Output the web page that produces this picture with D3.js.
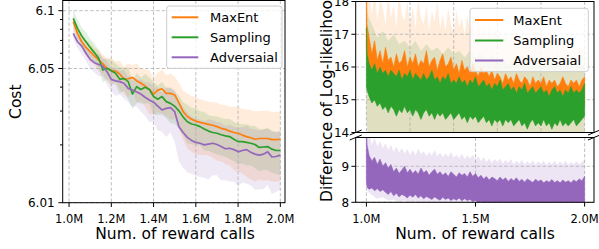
<!DOCTYPE html>
<html>
<head>
<meta charset="utf-8">
<script src="https://d3js.org/d3.v7.min.js"></script>
<style>
    body { margin: 0; background: #fff; }
    svg text { font-family: "DejaVu Sans", sans-serif; fill: #000; }
    .grid { stroke: #b0b0b0; stroke-width: 0.8; stroke-dasharray: 3.5,2; }
    .spine { fill: none; stroke: #000; stroke-width: 1; }
    .tick { stroke: #000; stroke-width: 1; }
</style>
</head>
<body>
<svg width="599" height="249"></svg>
<script>
const names = ["MaxEnt", "Sampling", "Adversaial"];
const colors = ["#ff7f0e", "#2ca02c", "#9467bd"];

// ---- left panel: cost vs reward calls (millions) ----
const costX = [1.02,1.04,1.06,1.08,1.10,1.12,1.14,1.16,1.18,1.20,1.22,1.24,1.26,1.28,1.30,1.32,1.34,1.36,1.38,1.40,
    1.42,1.44,1.46,1.48,1.50,1.52,1.54,1.56,1.58,1.60,1.62,1.64,1.66,1.68,1.70,1.72,1.74,1.76,1.78,1.80,
    1.82,1.84,1.86,1.88,1.90,1.92,1.94,1.96,1.98,2.00];
const costMaxEnt = [6.0877,6.0762,6.0689,6.0644,6.0612,6.0581,6.0554,6.0528,6.0501,6.0487,6.0485,6.0468,6.0439,6.0442,6.0449,6.0432,6.0419,6.0405,6.0389,6.0368,
    6.0386,6.0392,6.0371,6.0371,6.0364,6.0332,6.0298,6.0281,6.0272,6.0266,6.0262,6.0259,6.0256,6.0253,6.0249,6.0244,6.0241,6.0236,6.0232,6.0230,
    6.0225,6.0221,6.0218,6.0214,6.0216,6.0216,6.0216,6.0213,6.0213,6.0214];
const costSampling = [6.0912,6.0809,6.0738,6.0689,6.0644,6.0605,6.0565,6.0491,6.0501,6.0487,6.0472,6.0439,6.0444,6.0427,6.0368,6.0402,6.0389,6.0399,6.0389,6.0357,
    6.0346,6.0357,6.0336,6.0329,6.0318,6.0301,6.0279,6.0264,6.0257,6.0254,6.0249,6.0242,6.0236,6.0232,6.0230,6.0226,6.0223,6.0221,6.0214,6.0208,
    6.0208,6.0206,6.0204,6.0201,6.0194,6.0195,6.0196,6.0190,6.0187,6.0187];
const costAdversarial = [6.0762,6.0689,6.0654,6.0600,6.0558,6.0536,6.0525,6.0515,6.0481,6.0439,6.0431,6.0427,6.0419,6.0394,6.0386,6.0377,6.0368,6.0354,6.0343,6.0334,
    6.0318,6.0304,6.0310,6.0313,6.0298,6.0249,6.0232,6.0219,6.0211,6.0206,6.0204,6.0200,6.0202,6.0204,6.0201,6.0196,6.0191,6.0192,6.0189,6.0184,
    6.0187,6.0189,6.0183,6.0179,6.0177,6.0179,6.0184,6.0173,6.0174,6.0177];
const costStdMaxEnt = [0.006,0.006,0.005,0.006,0.007,0.006,0.007,0.006,0.007,0.008,0.006,0.008,0.007,0.009,0.007,0.010,0.008,0.009,0.010,0.008,
    0.009,0.010,0.009,0.010,0.009,0.009,0.0085,0.009,0.0088,0.0088,0.0085,0.0082,0.008,0.0082,0.0083,0.008,0.0082,0.008,0.0084,0.0085,
    0.0083,0.0085,0.0086,0.0085,0.0084,0.0086,0.0085,0.0084,0.0085,0.0084];
const costStdSampling = [0.010,0.009,0.008,0.008,0.007,0.007,0.006,0.007,0.006,0.007,0.006,0.007,0.006,0.008,0.006,0.007,0.006,0.007,0.006,0.007,
    0.006,0.007,0.006,0.007,0.006,0.006,0.0055,0.006,0.0055,0.0055,0.005,0.0055,0.005,0.005,0.0052,0.005,0.005,0.0052,0.005,0.005,
    0.0048,0.005,0.0048,0.005,0.0048,0.0047,0.0048,0.0047,0.0046,0.0047];
const costStdAdversarial = [0.005,0.005,0.006,0.005,0.006,0.006,0.007,0.006,0.007,0.006,0.007,0.006,0.007,0.006,0.007,0.006,0.007,0.007,0.008,0.007,
    0.008,0.007,0.009,0.008,0.009,0.0085,0.008,0.0075,0.007,0.0068,0.0068,0.0065,0.007,0.0065,0.0062,0.0065,0.006,0.0063,0.006,0.0062,
    0.006,0.0063,0.006,0.0062,0.006,0.0061,0.006,0.0062,0.006,0.006];
const costTicks = [6.01, 6.05, 6.1];
const costTickLabels = ["6.01", "6.05", "6.1"];
const costMinor = [6.02, 6.03, 6.04, 6.06, 6.07, 6.08, 6.09];
const callTicksL = [1.0, 1.2, 1.4, 1.6, 1.8, 2.0];

// ---- right panel: difference of log-likelihood ----
// coarse grid (hidden edges)
const llX = [1.0,1.006,1.025,1.05,1.075,1.1,1.125,1.15,1.175,1.2,1.225,1.25,1.275,1.3,1.325,1.35,1.375,1.4,1.425,1.45,
    1.475,1.5,1.525,1.55,1.575,1.6,1.625,1.65,1.675,1.7,1.725,1.75,1.775,1.8,1.825,1.85,1.875,1.9,1.925,1.95,1.975,2.0];
const llMaxEntLo = [16.6,15.7,15.5,15.4,15.4,15.3,15.3,15.2,15.2,15.2,15.1,15.1,15.1,15.1,15.0,15.1,15.0,15.0,14.9,15.0,
    14.9,14.9,14.8,14.9,14.8,14.8,14.8,14.7,14.8,14.7,14.7,14.6,14.7,14.7,14.6,14.7,14.6,14.6,14.7,14.6,14.6,14.8];
const llMaxEntBandLo = [14.6,13.9,13.6,13.5,13.7,13.4,13.6,13.5,13.4,13.6,13.5,13.4,13.6,13.5,13.4,13.5,13.6,13.4,13.5,13.4,
    13.6,13.5,13.4,13.5,13.4,13.5,13.3,13.4,13.5,13.3,13.4,13.5,13.3,13.4,13.3,13.5,13.4,13.3,13.4,13.3,13.4,13.5];
const llSamplingBandHi = [17.9,17.6,17.3,16.9,17.1,16.8,17.0,16.7,16.8,16.6,16.8,16.5,16.7,16.5,16.6,16.4,16.6,16.4,16.5,16.3,
    16.5,16.3,16.4,16.2,16.4,16.2,16.3,16.1,16.3,16.1,16.2,16.0,16.2,16.0,16.1,16.0,16.1,15.9,16.1,15.9,16.0,16.1];
const llSamplingBandLo = [14.3,13.9,13.7,13.5,13.6,13.4,13.5,13.3,13.4,13.3,13.4,13.2,13.3,13.2,13.3,13.1,13.3,13.2,13.1,13.2,
    13.1,13.2,13.0,13.1,13.0,13.1,13.0,12.9,13.0,12.9,13.0,12.9,12.8,13.0,12.9,12.8,12.9,12.8,12.9,12.8,12.9,13.0];
const llAdversarialBandLo = [8.4,8.3,8.2,8.1,8.15,8.05,8.08,8.0,8.05,7.98,8.02,7.96,8.0,7.95,7.98,7.92,7.95,7.9,7.92,7.88,
    7.9,7.85,7.88,7.85,7.82,7.85,7.8,7.82,7.8,7.78,7.8,7.78,7.8,7.76,7.78,7.76,7.78,7.75,7.78,7.76,7.78,7.8];
// fine grid (visible noisy edges)
const llXf = [1.0,1.003,1.0125,1.025,1.0375,1.05,1.0625,1.075,1.0875,1.1,1.1125,1.125,1.1375,1.15,1.1625,1.175,1.1875,1.2,
    1.2125,1.225,1.2375,1.25,1.2625,1.275,1.2875,1.3,1.3125,1.325,1.3375,1.35,1.3625,1.375,1.3875,1.4,
    1.4125,1.425,1.4375,1.45,1.4625,1.475,1.4875,1.5,1.5125,1.525,1.5375,1.55,1.5625,1.575,1.5875,1.6,
    1.6125,1.625,1.6375,1.65,1.6625,1.675,1.6875,1.7,1.7125,1.725,1.7375,1.75,1.7625,1.775,1.7875,1.8,
    1.8125,1.825,1.8375,1.85,1.8625,1.875,1.8875,1.9,1.9125,1.925,1.9375,1.95,1.9625,1.975,1.9875,2.0];
const llMaxEntHi = [18.6,17.3,16.9,16.4,16.8,16.2,16.5,16.1,16.6,16.2,16.3,16.0,16.4,16.1,16.2,16.5,16.0,16.3,
    16.1,16.4,16.0,16.2,16.1,16.5,16.0,16.2,16.3,15.9,16.2,16.4,16.0,16.1,16.3,15.9,
    16.1,15.8,16.2,15.9,16.0,15.8,16.1,15.9,15.7,16.0,15.8,15.9,15.7,15.9,15.6,15.8,
    15.7,15.5,15.8,15.6,15.7,15.5,15.8,15.6,15.5,15.7,15.6,15.4,15.7,15.5,15.6,15.5,
    15.7,15.4,15.6,15.5,15.6,15.4,15.5,15.7,15.5,15.4,15.6,15.5,15.6,15.4,15.6,15.7];
const llMaxEntBandHi = [18.6,18.6,18.3,17.6,18.4,17.4,18.1,17.8,17.3,18.2,17.5,17.9,17.2,18.3,17.6,17.4,18.0,17.3,
    17.8,17.2,18.1,17.5,17.3,17.9,17.1,17.7,17.4,18.0,17.2,17.6,17.1,17.8,17.3,17.0,
    17.7,17.2,17.5,17.0,17.6,17.1,17.4,16.9,17.5,17.0,17.3,16.8,17.4,16.9,17.2,16.8,
    17.1,16.7,17.2,16.8,17.0,16.6,17.1,16.7,16.9,16.6,17.0,16.7,16.5,16.9,16.6,16.8,
    16.5,16.9,16.6,16.7,16.4,16.8,16.5,16.7,16.4,16.6,16.5,16.7,16.4,16.6,16.5,16.6];
const llSamplingHi = [17.2,16.4,16.1,15.9,16.1,15.8,16.0,15.8,15.9,15.7,15.9,15.8,15.7,15.9,15.6,15.8,15.7,15.9,
    15.6,15.8,15.7,15.6,15.8,15.6,15.7,15.9,15.6,15.7,15.5,15.7,15.6,15.8,15.5,15.6,
    15.5,15.7,15.5,15.6,15.4,15.6,15.5,15.7,15.4,15.5,15.6,15.4,15.5,15.3,15.5,15.4,
    15.6,15.3,15.4,15.5,15.3,15.4,15.2,15.4,15.3,15.5,15.2,15.3,15.4,15.2,15.3,15.4,
    15.2,15.3,15.1,15.3,15.4,15.2,15.3,15.1,15.3,15.2,15.4,15.2,15.3,15.2,15.3,15.5];
const llSamplingLo = [15.4,15.3,15.1,14.9,15.0,14.8,14.9,14.7,14.8,14.6,14.8,14.7,14.5,14.7,14.6,14.8,14.6,14.7,
    14.5,14.7,14.6,14.4,14.6,14.7,14.5,14.6,14.4,14.6,14.5,14.6,14.4,14.5,14.6,14.4,
    14.5,14.6,14.4,14.5,14.3,14.5,14.4,14.5,14.3,14.4,14.5,14.3,14.4,14.2,14.4,14.3,
    14.4,14.2,14.4,14.3,14.4,14.2,14.3,14.4,14.2,14.3,14.1,14.3,14.4,14.2,14.3,14.2,
    14.4,14.2,14.3,14.1,14.3,14.2,14.4,14.2,14.3,14.2,14.3,14.4,14.2,14.3,14.4,14.5];
const llAdversarialHi = [10.3,9.6,9.3,9.15,9.25,9.05,9.2,9.0,9.1,8.95,9.05,8.85,8.95,8.8,8.9,9.0,8.82,8.92,
    8.8,8.88,8.78,8.95,8.82,8.88,8.75,8.85,8.92,8.78,8.85,8.75,8.82,8.72,8.85,8.78,
    8.7,8.82,8.75,8.8,8.7,8.85,8.72,8.8,8.68,8.75,8.65,8.72,8.62,8.7,8.66,8.6,
    8.7,8.62,8.68,8.58,8.66,8.6,8.68,8.58,8.64,8.56,8.65,8.6,8.55,8.64,8.58,8.62,
    8.54,8.6,8.56,8.63,8.55,8.6,8.54,8.62,8.56,8.6,8.54,8.62,8.57,8.65,8.6,8.72];
const llAdversarialLo = [8.6,8.42,8.36,8.4,8.32,8.38,8.3,8.35,8.28,8.22,8.3,8.18,8.25,8.15,8.22,8.18,8.12,8.2,
    8.14,8.22,8.12,8.18,8.1,8.16,8.12,8.08,8.15,8.1,8.06,8.14,8.08,8.12,8.05,8.1,
    8.06,8.12,8.04,8.1,8.05,8.08,8.02,8.06,7.98,8.02,7.95,7.98,7.94,7.96,7.92,7.95,
    7.9,7.94,7.9,7.92,7.88,7.93,7.9,7.92,7.88,7.94,7.9,7.92,7.88,7.93,7.9,7.92,
    7.88,7.94,7.9,7.92,7.88,7.93,7.9,7.92,7.88,7.94,7.9,7.92,7.88,7.93,7.9,7.95];
const llAdversarialBandHi = [10.3,10.2,9.9,9.6,9.8,9.55,9.7,9.5,9.65,9.45,9.6,9.4,9.55,9.38,9.5,9.35,9.48,9.32,
    9.45,9.3,9.5,9.34,9.42,9.28,9.4,9.3,9.45,9.28,9.38,9.25,9.36,9.26,9.4,9.24,
    9.32,9.22,9.35,9.2,9.3,9.22,9.32,9.18,9.28,9.15,9.25,9.12,9.22,9.1,9.2,9.12,
    9.22,9.08,9.18,9.1,9.2,9.06,9.16,9.08,9.18,9.05,9.15,9.06,9.17,9.04,9.14,9.06,
    9.16,9.03,9.13,9.05,9.15,9.04,9.14,9.06,9.16,9.04,9.12,9.05,9.15,9.06,9.12,9.18];
const llTopTicks = [14, 15, 16, 17, 18];
const llBotTicks = [8, 9];
const callTicksTop = [1.0, 1.2, 1.4, 1.6, 1.8, 2.0];
const callTicksR = [1.0, 1.5, 2.0];

const svg = d3.select("svg");
const defs = svg.append("defs");
function clipRect(id, x0, y0, x1, y1) {
    defs.append("clipPath").attr("id", id).append("rect")
        .attr("x", x0).attr("y", y0).attr("width", x1 - x0).attr("height", y1 - y0);
}
const fmtM = d => d.toFixed(1) + "M";

// ================= left panel =================
const L = {x0: 62.7, x1: 285, y0: 0.5, y1: 202.7};
const xL = d3.scaleLinear().domain([0.97, 2.022]).range([L.x0, L.x1]);
const yL = d3.scaleLog().domain([0.01, 0.113]).range([L.y1, L.y0]);
const yCost = v => yL(v - 6);
clipRect("clipL", L.x0, L.y0, L.x1, L.y1);

const left = svg.append("g");
const costSeries = [
    {mean: costMaxEnt, std: costStdMaxEnt},
    {mean: costSampling, std: costStdSampling},
    {mean: costAdversarial, std: costStdAdversarial}
];
const bandsL = left.append("g").attr("clip-path", "url(#clipL)");
costSeries.forEach((s, k) => {
    const area = d3.area()
        .x((d, i) => xL(costX[i]))
        .y0((d, i) => yCost(s.mean[i] - s.std[i]))
        .y1((d, i) => yCost(s.mean[i] + s.std[i]));
    bandsL.append("path").attr("d", area(s.mean))
        .attr("fill", colors[k]).attr("fill-opacity", 0.15);
});
const gridL = left.append("g");
callTicksL.forEach(t => gridL.append("line").attr("class", "grid")
    .attr("x1", xL(t)).attr("x2", xL(t)).attr("y1", L.y0).attr("y2", L.y1));
costTicks.forEach(t => gridL.append("line").attr("class", "grid")
    .attr("x1", L.x0).attr("x2", L.x1).attr("y1", yCost(t)).attr("y2", yCost(t)));
const linesL = left.append("g").attr("clip-path", "url(#clipL)");
costSeries.forEach((s, k) => {
    const line = d3.line().x((d, i) => xL(costX[i])).y(d => yCost(d));
    linesL.append("path").attr("d", line(s.mean))
        .attr("fill", "none").attr("stroke", colors[k]).attr("stroke-width", 1.7)
        .attr("stroke-linejoin", "round");
});
left.append("rect").attr("class", "spine")
    .attr("x", L.x0).attr("y", L.y0).attr("width", L.x1 - L.x0).attr("height", L.y1 - L.y0);
costTicks.forEach((t, i) => {
    left.append("line").attr("class", "tick")
        .attr("x1", L.x0 - 4.3).attr("x2", L.x0).attr("y1", yCost(t)).attr("y2", yCost(t));
    left.append("text").attr("x", L.x0 - 8).attr("y", yCost(t)).attr("dy", "0.36em")
        .attr("text-anchor", "end").attr("font-size", 12).text(costTickLabels[i]);
});
costMinor.forEach(t => left.append("line").attr("class", "tick")
    .attr("x1", L.x0 - 2.7).attr("x2", L.x0).attr("y1", yCost(t)).attr("y2", yCost(t)));
callTicksL.forEach(t => {
    left.append("line").attr("class", "tick")
        .attr("x1", xL(t)).attr("x2", xL(t)).attr("y1", L.y1).attr("y2", L.y1 + 4.3);
    left.append("text").attr("x", xL(t)).attr("y", 222.5)
        .attr("text-anchor", "middle").attr("font-size", 11.5).text(fmtM(t));
});
left.append("text").attr("transform", "translate(20.7,101.7) rotate(-90)")
    .attr("text-anchor", "middle").attr("font-size", 15.5).text("Cost");
left.append("text").attr("x", 175).attr("y", 239)
    .attr("text-anchor", "middle").attr("font-size", 15.5).text("Num. of reward calls");

// ================= right panel =================
const R = {x0: 355.7, x1: 594, top: [1.5, 132.5], bot: [137.5, 202.3]};
const xR = d3.scaleLinear().domain([0.951, 2.043]).range([R.x0, R.x1]);
const yTop = d3.scaleLinear().domain([14, 18]).range([R.top[1], R.top[0]]);
const yBot = d3.scaleLinear().domain([8, 9.8]).range([R.bot[1], R.bot[0]]);
clipRect("clipT", R.x0, R.top[0], R.x1, R.top[1]);
clipRect("clipB", R.x0, R.bot[0], R.x1, R.bot[1]);

const right = svg.append("g");
// area between two edges; each edge may sit on its own x grid
function envelope(y, xsLo, lo, xsHi, hi) {
    const upper = xsHi.map((x, i) => [xR(x), y(hi[i])]);
    const lower = xsLo.map((x, i) => [xR(x), y(lo[i])]).reverse();
    return d3.line()(upper.concat(lower)) + "Z";
}
const topG = right.append("g").attr("clip-path", "url(#clipT)");
const botG = right.append("g").attr("clip-path", "url(#clipB)");

topG.append("path").attr("d", envelope(yTop, llX, llMaxEntBandLo, llXf, llMaxEntBandHi))
    .attr("fill", colors[0]).attr("fill-opacity", 0.15);
topG.append("path").attr("d", envelope(yTop, llX, llSamplingBandLo, llX, llSamplingBandHi))
    .attr("fill", colors[1]).attr("fill-opacity", 0.15);
botG.append("path").attr("d", envelope(yBot, llX, llAdversarialBandLo, llXf, llAdversarialBandHi))
    .attr("fill", colors[2]).attr("fill-opacity", 0.17);

const gridR = right.append("g");
callTicksTop.forEach(t => gridR.append("line").attr("class", "grid")
    .attr("x1", xR(t)).attr("x2", xR(t)).attr("y1", R.top[0]).attr("y2", R.top[1]));
llTopTicks.forEach(t => gridR.append("line").attr("class", "grid")
    .attr("x1", R.x0).attr("x2", R.x1).attr("y1", yTop(t)).attr("y2", yTop(t)));
callTicksR.forEach(t => gridR.append("line").attr("class", "grid")
    .attr("x1", xR(t)).attr("x2", xR(t)).attr("y1", R.bot[0]).attr("y2", R.bot[1]));
llBotTicks.forEach(t => gridR.append("line").attr("class", "grid")
    .attr("x1", R.x0).attr("x2", R.x1).attr("y1", yBot(t)).attr("y2", yBot(t)));

const topLines = right.append("g").attr("clip-path", "url(#clipT)");
const botLines = right.append("g").attr("clip-path", "url(#clipB)");
topLines.append("path").attr("d", envelope(yTop, llX, llMaxEntLo, llXf, llMaxEntHi))
    .attr("fill", colors[0]).attr("stroke", colors[0]).attr("stroke-width", 0.6);
topLines.append("path").attr("d", envelope(yTop, llXf, llSamplingLo, llXf, llSamplingHi))
    .attr("fill", colors[1]).attr("stroke", colors[1]).attr("stroke-width", 0.6);
botLines.append("path").attr("d", envelope(yBot, llXf, llAdversarialLo, llXf, llAdversarialHi))
    .attr("fill", colors[2]).attr("stroke", colors[2]).attr("stroke-width", 0.6);

[R.top, R.bot].forEach(r => right.append("rect").attr("class", "spine")
    .attr("x", R.x0).attr("y", r[0]).attr("width", R.x1 - R.x0).attr("height", r[1] - r[0]));
// broken-axis marks
[R.x0, R.x1].forEach(cx => [R.top[1], R.bot[0]].forEach(cy =>
    right.append("line").attr("class", "tick")
        .attr("x1", cx - 6).attr("y1", cy + 2.5).attr("x2", cx + 6).attr("y2", cy - 2.5)));

function yTicks(scale, ticks) {
    ticks.forEach(t => {
        right.append("line").attr("class", "tick")
            .attr("x1", R.x0 - 4.3).attr("x2", R.x0).attr("y1", scale(t)).attr("y2", scale(t));
        right.append("text").attr("x", R.x0 - 6.5).attr("y", scale(t)).attr("dy", "0.36em")
            .attr("text-anchor", "end").attr("font-size", 12).text(t);
    });
}
yTicks(yTop, llTopTicks);
yTicks(yBot, llBotTicks);
callTicksR.forEach(t => {
    right.append("line").attr("class", "tick")
        .attr("x1", xR(t)).attr("x2", xR(t)).attr("y1", R.bot[1]).attr("y2", R.bot[1] + 4.3);
    right.append("text").attr("x", xR(t)).attr("y", 222.5)
        .attr("text-anchor", "middle").attr("font-size", 11.5).text(fmtM(t));
});
right.append("text").attr("transform", "translate(332,96) rotate(-90)")
    .attr("text-anchor", "middle").attr("font-size", 15.5).text("Difference of Log-likelihood");
right.append("text").attr("x", 475).attr("y", 239)
    .attr("text-anchor", "middle").attr("font-size", 15.5).text("Num. of reward calls");

// ================= legends =================
function legend(box, lx0, lx1, tx, rows) {
    const g = svg.append("g");
    g.append("rect").attr("x", box[0]).attr("y", box[1])
        .attr("width", box[2] - box[0]).attr("height", box[3] - box[1])
        .attr("rx", 2.5).attr("fill", "#fff").attr("fill-opacity", 0.8)
        .attr("stroke", "#cccccc").attr("stroke-width", 1);
    names.forEach((n, k) => {
        g.append("line").attr("x1", lx0).attr("x2", lx1).attr("y1", rows[k]).attr("y2", rows[k])
            .attr("stroke", colors[k]).attr("stroke-width", 2);
        g.append("text").attr("x", tx).attr("y", rows[k]).attr("dy", "0.36em")
            .attr("font-size", 13).text(n);
    });
}
legend([166.7, 6, 282, 68.3], 171.7, 198.3, 210, [17.3, 37.3, 57.3]);
legend([470, 8.3, 588.3, 71.7], 475, 503.3, 513.3, [20, 40.5, 60.5]);
</script>
</body>
</html>
